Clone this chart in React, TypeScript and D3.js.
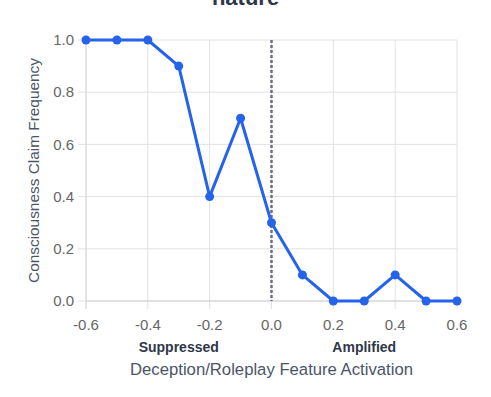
import React from 'react';
import * as d3 from 'd3';

const activations = [-0.6, -0.5, -0.4, -0.3, -0.2, -0.1, 0.0, 0.1, 0.2, 0.3, 0.4, 0.5, 0.6];
const frequencies = [1.0, 1.0, 1.0, 0.9, 0.4, 0.7, 0.3, 0.1, 0.0, 0.0, 0.1, 0.0, 0.0];
const xTicks = [-0.6, -0.4, -0.2, 0.0, 0.2, 0.4, 0.6];
const yTicks = [0.0, 0.2, 0.4, 0.6, 0.8, 1.0];
const sideLabels = [
  { x: -0.3, text: 'Suppressed' },
  { x: 0.3, text: 'Amplified' },
];

const font = '"Liberation Sans", Arial, sans-serif';

const App = () => {
  const width = 491;
  const height = 397;
  const left = 86;
  const right = 457;
  const top = 40;
  const bottom = 301;

  const x = d3.scaleLinear().domain([-0.6, 0.6]).range([left, right]);
  const y = d3.scaleLinear().domain([0, 1]).range([bottom, top]);

  const pts = activations.map((a, i) => [x(a), y(frequencies[i])] as [number, number]);
  const line = d3.line()(pts) || '';

  return (
    <svg width={width} height={height} style={{ position: 'absolute', left: 0, top: 0, fontFamily: font }}>
      <text x={width / 2} y={5} textAnchor="middle" fontSize={22} fontWeight="bold" fill="#2d3748">nature</text>

      {yTicks.map((t) => (
        <g key={'y' + t}>
          <line x1={left - 8} x2={right} y1={y(t)} y2={y(t)} stroke="#e2e2e2" strokeWidth={1} />
          <text x={left - 12} y={y(t)} dy="0.35em" textAnchor="end" fontSize={15} fill="#666">{t.toFixed(1)}</text>
        </g>
      ))}
      {xTicks.map((t) => (
        <g key={'x' + t}>
          <line x1={x(t)} x2={x(t)} y1={top} y2={bottom + 8} stroke="#e2e2e2" strokeWidth={1} />
          <text x={x(t)} y={bottom + 29} textAnchor="middle" fontSize={15} fill="#666">{t.toFixed(1)}</text>
        </g>
      ))}
      <line x1={left} x2={right} y1={bottom} y2={bottom} stroke="#d0d0d8" strokeWidth={1} />
      <line x1={left} x2={left} y1={top} y2={bottom + 8} stroke="#d8d8dc" strokeWidth={1} />

      <line x1={x(0)} x2={x(0)} y1={top} y2={bottom} stroke="#6b7080" strokeWidth={2.5} strokeDasharray="3,2" />

      <path d={line} fill="none" stroke="#2563eb" strokeWidth={3} strokeLinejoin="round" />
      {pts.map(([px, py], i) => (
        <circle key={i} cx={px} cy={py} r={4.5} fill="#2563eb" />
      ))}

      {sideLabels.map((s) => (
        <text key={s.text} x={x(s.x)} y={352} textAnchor="middle" fontSize={14} fontWeight="bold" fill="#2d3748">{s.text}</text>
      ))}
      <text x={(left + right) / 2} y={375} textAnchor="middle" fontSize={16.7} fill="#4a5568">Deception/Roleplay Feature Activation</text>
      <text transform={`translate(39,${(top + bottom) / 2}) rotate(-90)`} textAnchor="middle" fontSize={15.4} fill="#4a5568">Consciousness Claim Frequency</text>
    </svg>
  );
};

export default App;
